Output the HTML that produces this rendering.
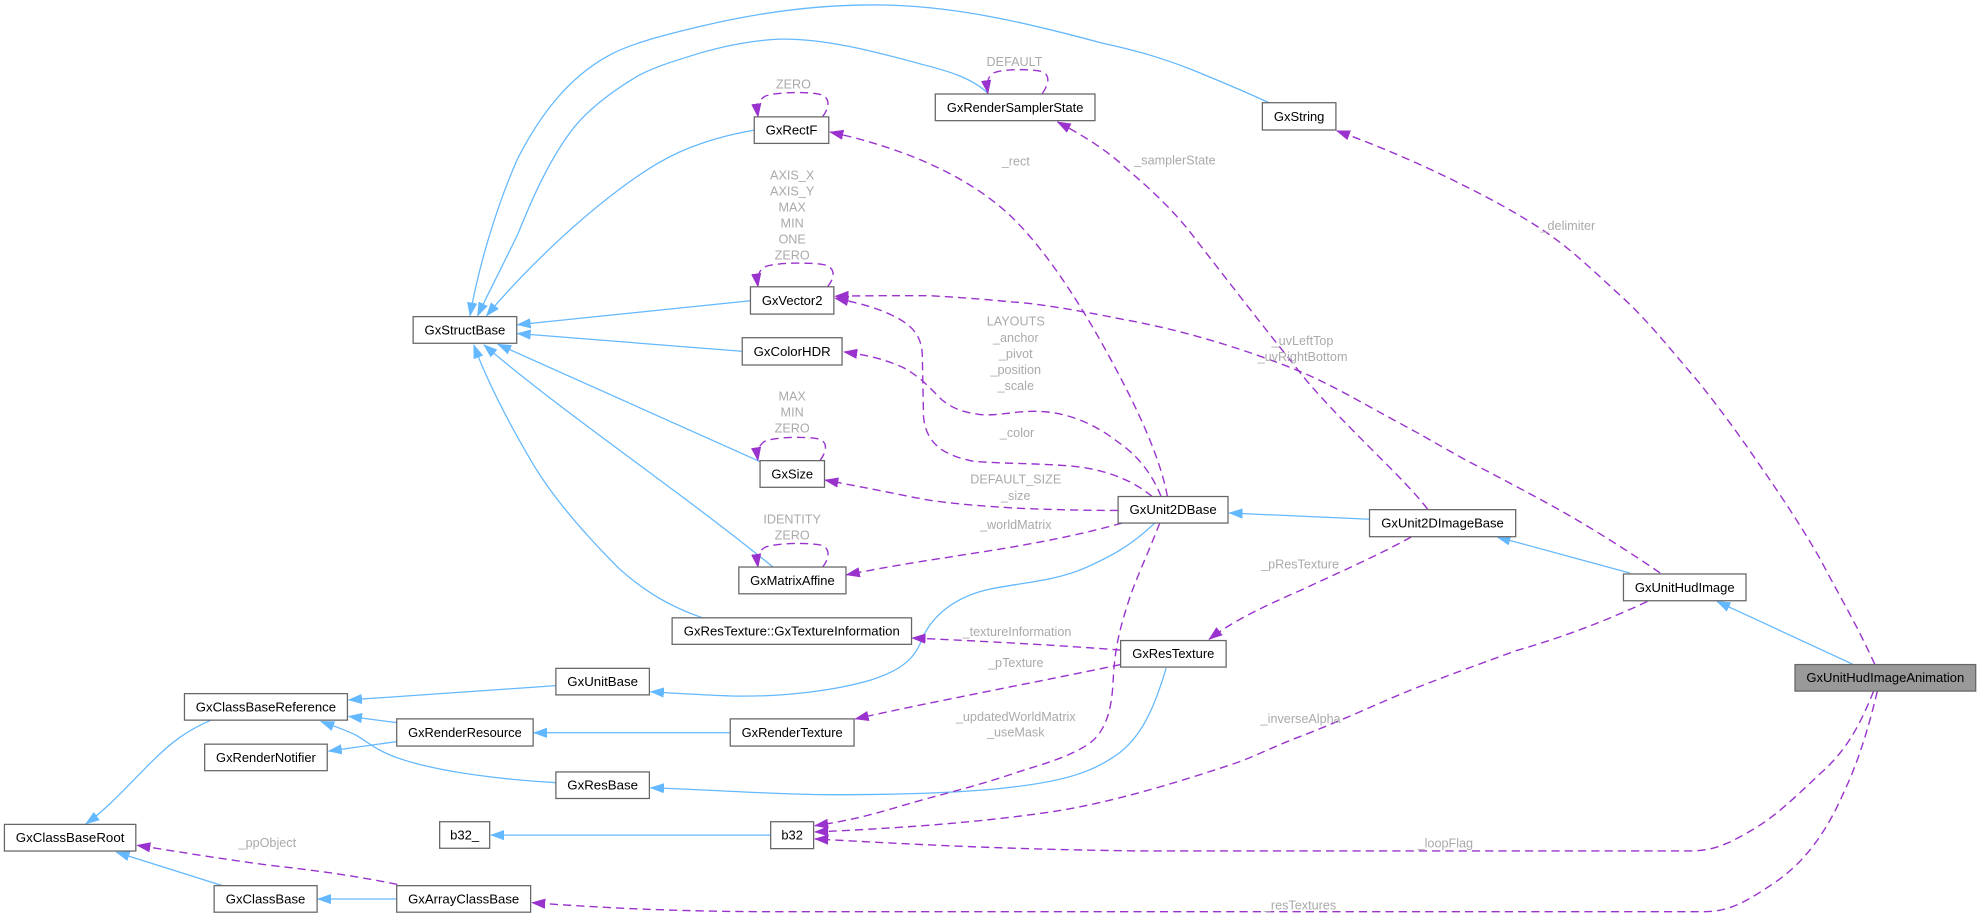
<!DOCTYPE html>
<html>
<head>
<meta charset="utf-8">
<style>
html,body{margin:0;padding:0;background:#fff;}
svg{display:block;}
.n{fill:#fff;stroke:#666;stroke-width:1;}
.t{font-family:"Liberation Sans",Arial,sans-serif;font-size:10.2px;fill:#000;text-anchor:middle;}
.l{font-family:"Liberation Sans",Arial,sans-serif;font-size:10px;fill:#aaaaaa;text-anchor:middle;}
.b{fill:none;stroke:#63b8ff;stroke-width:1;marker-end:url(#ab);}
.p{fill:none;stroke:#9a32cd;stroke-width:1.1;stroke-dasharray:6.5,4;marker-end:url(#ap);}
</style>
</head>
<body>
<svg width="1981" height="918" viewBox="0 0 1568 726.6" preserveAspectRatio="none" xmlns="http://www.w3.org/2000/svg">
<defs>
<marker id="ab" markerUnits="userSpaceOnUse" markerWidth="11" markerHeight="8" refX="10.5" refY="3.75" orient="auto" viewBox="0 0 11 7.5">
<path d="M0,0 L10.5,3.75 L0,7.5 z" fill="#63b8ff" stroke="#63b8ff" stroke-width="0.5"/>
</marker>
<marker id="ap" markerUnits="userSpaceOnUse" markerWidth="11" markerHeight="8" refX="10.5" refY="3.75" orient="auto" viewBox="0 0 11 7.5">
<path d="M0,0 L10.5,3.75 L0,7.5 z" fill="#9a32cd" stroke="#9a32cd" stroke-width="0.5"/>
</marker>
</defs>

<!-- Blue inheritance edges -->
<path class="b" d="M1006,82 C980,70 960,62 943,55 C920,46 900,40 872,34 C820,20 760,5 700,4 C650,3 600,10 554,21 C520,29 495,36 480,45 C450,62 428,90 410,125 C392,165 378,215 372,250"/>
<path class="b" d="M782,74 C770,62 750,56 730,51 C690,40 650,30 617,31 C595,32 575,36 554,42 C535,48 520,52 505,60 C480,75 465,88 455,100 C435,125 420,160 410,185 C398,210 385,235 378,250"/>
<path class="b" d="M597,103 C580,106 565,110 554,114 C530,122 510,135 490,150 C450,180 410,220 385,250"/>
<path class="b" d="M594,238 L409.5,257"/>
<path class="b" d="M587,278 L409.5,264"/>
<path class="b" d="M603,366 L394,272.5"/>
<path class="b" d="M612,449 C540,390 450,330 383,273"/>
<path class="b" d="M556,489 C530,480 510,468 490,450 C460,420 435,390 420,364 C400,330 385,300 375,273"/>
<path class="b" d="M440,542.7 L276,554"/>
<path class="b" d="M314,572 L276,567"/>
<path class="b" d="M440,619.5 C400,617 350,612 315,600 C298,594 292,588 282,582 C272,577 262,574 254,571"/>
<path class="b" d="M314,587 L260,594.5"/>
<path class="b" d="M167,570 C148,578 135,588 120,603 C100,623 85,640 68,652"/>
<path class="b" d="M176,701 L92,674.5"/>
<path class="b" d="M314,711.6 L251.5,711.6"/>
<path class="b" d="M610,661 L388.5,661"/>
<path class="b" d="M578,580 L422.5,580"/>
<path class="b" d="M914,414 C895,432 880,440 860,449 C835,460 810,461 785,466 C755,472 738,488 730,505 C725,520 715,530 690,538 C660,547 620,551 589,551 C570,551 540,549 515,547.5"/>
<path class="b" d="M923,529 C915,555 905,585 880,600 C865,610 845,618 801,623 C760,628 700,629 660,629 C620,629 580,626 515,623.5"/>
<path class="b" d="M1084,411 L973,406"/>
<path class="b" d="M1290,453.5 L1185,425"/>
<path class="b" d="M1467,526 L1359,476"/>

<!-- Purple usage edges -->
<path class="p" d="M651,92.5 C656,86 658,78 650,75 C642,72.5 615,72.5 606,76 C600,79 599,85 600,92.5"/>
<path class="p" d="M825,74 C830,67 832,59 824,56.5 C816,54.5 795,54.5 787,57.5 C781,60.5 781,67 782,74"/>
<path class="p" d="M655,227 C660,221 662,213 654,210 C646,207.5 615,207.5 606,211 C600,214 599,220 600,227"/>
<path class="p" d="M649,364.6 C654,358 656,350 648,347.5 C640,345.5 615,345.5 606,349 C600,352 599,358 600,364.6"/>
<path class="p" d="M651,449 C656,443 658,434 650,431.5 C642,429.5 615,429.5 606,433 C600,436 599,442 600,449"/>

<path class="p" d="M924,393 C919,365 903,330 889,303 C875,276 840,210 801,172 C770,142 720,118 657,104.5"/>
<path class="p" d="M912,393 C900,383 880,372 849,369 C820,366.5 790,367 770,365 C745,360 733,350 731,330 L730,280 C729,265 722,257 705,249 C690,242 675,239 661,236"/>
<path class="p" d="M919,393 C912,375 900,360 885,350 C870,338 850,328 828,326 C805,324 790,330 775,328 C760,326 752,322 745,316 C735,306 728,298 715,291 C700,284 685,281 668,278.5"/>
<path class="p" d="M885,404 C850,404 820,403 801,402 C770,400 745,398 725,394 C700,389 680,385 653,380"/>
<path class="p" d="M888,414 C860,422 830,428 801,433 C760,440 720,445 670,455"/>
<path class="p" d="M887,514.5 C840,511 790,508 722,505"/>
<path class="p" d="M887,526 C820,540 740,555 677,569"/>
<path class="p" d="M918,414 C908,440 898,460 892,480 C884,505 882,520 881,540 C880,560 876,580 860,590 C840,602 820,606 800,613 C770,623 740,630 713,638 C690,645 670,650 645,653.5"/>
<path class="p" d="M1117,425 C1090,440 1060,453 1030,467 C1000,480 975,492 957,506"/>
<path class="p" d="M1130,403 C1120,390 1105,375 1092,362 C1070,340 1050,320 1034,301 C1005,265 970,220 943,185 C925,162 905,145 890,132 C875,118 855,106 837,96.5"/>
<path class="p" d="M1314,453.5 C1290,437 1260,418 1235,404 C1210,390 1185,377 1160,364 C1140,353 1125,344 1108,335 C1080,320 1055,305 1029,294 C990,278 940,262 890,253 C850,245 820,240 801,239 C770,236 740,234 731,234 C710,234 685,234 661,234.5"/>
<path class="p" d="M1484,526 C1470,495 1455,470 1441,443 C1425,415 1408,390 1390,364 C1375,342 1360,322 1345,303 C1325,280 1308,258 1287,238 C1265,218 1245,198 1221,182 C1195,165 1175,155 1149,142 C1120,128 1090,115 1058,103.5"/>
<path class="p" d="M1304,476 C1270,492 1235,505 1200,515 C1165,528 1130,540 1098,554 C1075,564 1050,575 1029,583 C1010,590 995,598 978,604 C930,620 880,635 836,642 C770,652 700,656 645,658.5"/>
<path class="p" d="M1483,547 C1470,580 1458,597 1441,612 C1420,632 1405,646 1390,655 C1370,667 1358,673 1340,673.5 L900,673.5 C780,672 700,667 645,664"/>
<path class="p" d="M1486,547 C1478,580 1470,605 1459,628 C1445,660 1428,682 1407,697 C1385,712 1370,721.6 1349,721.6 L600,721.6 C520,721 470,718 421,714.5"/>
<path class="p" d="M314.5,700 C280,693 250,689 212,684.7 C170,679 140,674 108.5,669"/>

<!-- Edge labels -->
<text class="l" x="628" y="70.2">ZERO</text>
<text class="l" x="803" y="52.3">DEFAULT</text>
<text class="l" x="627" y="142">AXIS_X</text>
<text class="l" x="627" y="154.7">AXIS_Y</text>
<text class="l" x="627" y="167.3">MAX</text>
<text class="l" x="627" y="180">MIN</text>
<text class="l" x="627" y="192.7">ONE</text>
<text class="l" x="627" y="205.3">ZERO</text>
<text class="l" x="627" y="316.9">MAX</text>
<text class="l" x="627" y="329.5">MIN</text>
<text class="l" x="627" y="342.3">ZERO</text>
<text class="l" x="627" y="414.3">IDENTITY</text>
<text class="l" x="627" y="427">ZERO</text>
<text class="l" x="804" y="130.9">_rect</text>
<text class="l" x="930" y="130.1">_samplerState</text>
<text class="l" x="1241" y="182.1">_delimiter</text>
<text class="l" x="804" y="257.5">LAYOUTS</text>
<text class="l" x="804" y="270.8">_anchor</text>
<text class="l" x="804" y="283.5">_pivot</text>
<text class="l" x="804" y="296.1">_position</text>
<text class="l" x="804" y="308.8">_scale</text>
<text class="l" x="1031" y="273.1">_uvLeftTop</text>
<text class="l" x="1031" y="285.8">_uvRightBottom</text>
<text class="l" x="805" y="346">_color</text>
<text class="l" x="804" y="382.6">DEFAULT_SIZE</text>
<text class="l" x="804" y="395.8">_size</text>
<text class="l" x="804" y="418.8">_worldMatrix</text>
<text class="l" x="1029" y="450">_pResTexture</text>
<text class="l" x="805" y="503.5">_textureInformation</text>
<text class="l" x="804" y="528">_pTexture</text>
<text class="l" x="804" y="570.8">_updatedWorldMatrix</text>
<text class="l" x="804" y="583.1">_useMask</text>
<text class="l" x="1029.5" y="572.1">_inverseAlpha</text>
<text class="l" x="1144" y="671">_loopFlag</text>
<text class="l" x="1029" y="719.8">_resTextures</text>
<text class="l" x="211.6" y="670.5">_ppObject</text>

<!-- Nodes -->
<rect class="n" x="327" y="250.6" width="82" height="21.1"/>
<text class="t" x="368" y="264.8" textLength="64" lengthAdjust="spacingAndGlyphs">GxStructBase</text>

<rect class="n" x="597" y="92.5" width="59" height="21"/>
<text class="t" x="626.5" y="106.6" textLength="41" lengthAdjust="spacingAndGlyphs">GxRectF</text>

<rect class="n" x="740.3" y="74.4" width="126.4" height="21.1"/>
<text class="t" x="803.5" y="88.6" textLength="108" lengthAdjust="spacingAndGlyphs">GxRenderSamplerState</text>

<rect class="n" x="999.2" y="81.3" width="58.2" height="21.6"/>
<text class="t" x="1028.3" y="95.7" textLength="40" lengthAdjust="spacingAndGlyphs">GxString</text>

<rect class="n" x="594" y="227" width="66" height="21.6"/>
<text class="t" x="627" y="241.4" textLength="48" lengthAdjust="spacingAndGlyphs">GxVector2</text>

<rect class="n" x="587.5" y="267.3" width="79" height="21.6"/>
<text class="t" x="627" y="281.7" textLength="61" lengthAdjust="spacingAndGlyphs">GxColorHDR</text>

<rect class="n" x="601.6" y="364.6" width="51" height="21.1"/>
<text class="t" x="627.1" y="378.8" textLength="33" lengthAdjust="spacingAndGlyphs">GxSize</text>

<rect class="n" x="584.8" y="448.8" width="84.8" height="21.2"/>
<text class="t" x="627.2" y="462.9" textLength="67" lengthAdjust="spacingAndGlyphs">GxMatrixAffine</text>

<rect class="n" x="532" y="489" width="189.5" height="21"/>
<text class="t" x="626.7" y="503" textLength="171" lengthAdjust="spacingAndGlyphs">GxResTexture::GxTextureInformation</text>

<rect class="n" x="440" y="529" width="74" height="21"/>
<text class="t" x="477" y="543" textLength="56" lengthAdjust="spacingAndGlyphs">GxUnitBase</text>

<rect class="n" x="146" y="549" width="129" height="21"/>
<text class="t" x="210.5" y="563" textLength="111" lengthAdjust="spacingAndGlyphs">GxClassBaseReference</text>

<rect class="n" x="314" y="569" width="108" height="21.5"/>
<text class="t" x="368" y="583.2" textLength="90" lengthAdjust="spacingAndGlyphs">GxRenderResource</text>

<rect class="n" x="162" y="589" width="97" height="21"/>
<text class="t" x="210.5" y="603" textLength="79" lengthAdjust="spacingAndGlyphs">GxRenderNotifier</text>

<rect class="n" x="440" y="611" width="74" height="21"/>
<text class="t" x="477" y="625" textLength="56" lengthAdjust="spacingAndGlyphs">GxResBase</text>

<rect class="n" x="3.5" y="652.5" width="104" height="21.1"/>
<text class="t" x="55.5" y="666.6" textLength="86" lengthAdjust="spacingAndGlyphs">GxClassBaseRoot</text>

<rect class="n" x="348" y="650.4" width="39.6" height="21"/>
<text class="t" x="367.8" y="664.4" textLength="23" lengthAdjust="spacingAndGlyphs">b32_</text>

<rect class="n" x="610" y="650.4" width="34" height="21.3"/>
<text class="t" x="627" y="664.5" textLength="17" lengthAdjust="spacingAndGlyphs">b32</text>

<rect class="n" x="169.5" y="701" width="81.5" height="21"/>
<text class="t" x="210.2" y="715" textLength="63" lengthAdjust="spacingAndGlyphs">GxClassBase</text>

<rect class="n" x="314" y="701" width="106" height="21"/>
<text class="t" x="367" y="715" textLength="88" lengthAdjust="spacingAndGlyphs">GxArrayClassBase</text>

<rect class="n" x="578" y="569" width="98" height="21.5"/>
<text class="t" x="627" y="583.2" textLength="80" lengthAdjust="spacingAndGlyphs">GxRenderTexture</text>

<rect class="n" x="885" y="393" width="87" height="21"/>
<text class="t" x="928.5" y="407" textLength="69" lengthAdjust="spacingAndGlyphs">GxUnit2DBase</text>

<rect class="n" x="1084" y="403.4" width="115.7" height="21.4"/>
<text class="t" x="1141.8" y="417.6" textLength="97" lengthAdjust="spacingAndGlyphs">GxUnit2DImageBase</text>

<rect class="n" x="887" y="507" width="83.5" height="21"/>
<text class="t" x="928.7" y="521" textLength="65" lengthAdjust="spacingAndGlyphs">GxResTexture</text>

<rect class="n" x="1285" y="454.3" width="97" height="21.2"/>
<text class="t" x="1333.5" y="468.4" textLength="79" lengthAdjust="spacingAndGlyphs">GxUnitHudImage</text>

<rect x="1420.8" y="526" width="143" height="21" fill="#999999" stroke="#666" stroke-width="1"/>
<text class="t" x="1492.3" y="540" textLength="125" lengthAdjust="spacingAndGlyphs">GxUnitHudImageAnimation</text>
</svg>
</body>
</html>
